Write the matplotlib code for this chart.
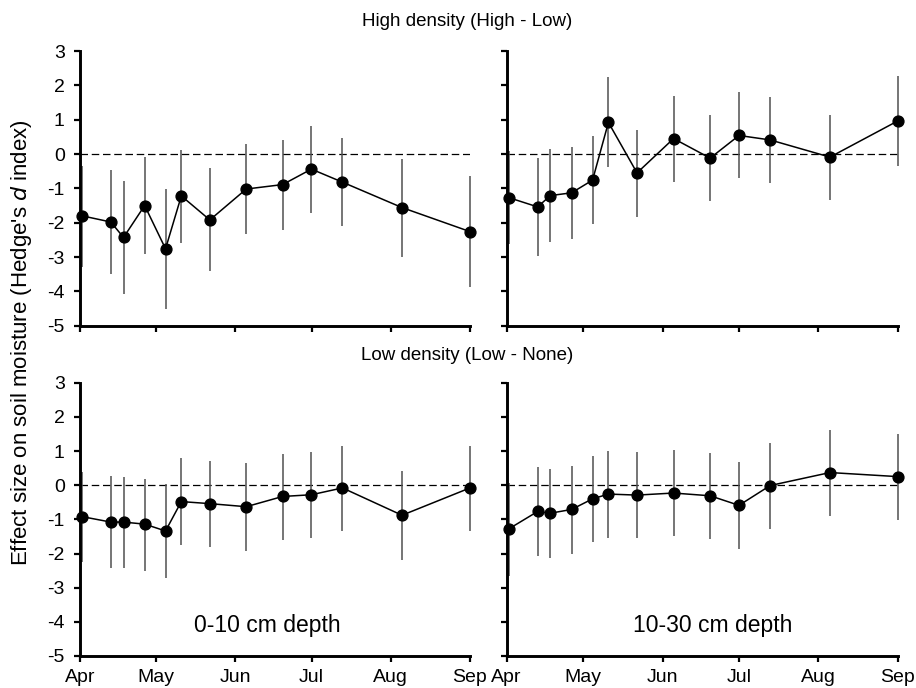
#!/usr/bin/env python3
"""
Effect size on soil moisture by date, two densities x two depths
"""
import matplotlib
matplotlib.use("Agg")
import matplotlib.pyplot as plt

plt.rcParams['font.family'] = ['Liberation Sans', 'DejaVu Sans']
plt.rcParams['axes.unicode_minus'] = False

# sampling dates, days since 1 April
days = [0.8, 12.1, 17.1, 25.4, 33.6, 39.8, 51.0, 65.3, 79.6, 90.9, 103.1, 126.5, 153.2]

month_days = [0, 30, 61, 91, 122, 153]
month_labels = ['Apr', 'May', 'Jun', 'Jul', 'Aug', 'Sep']

# High density (High - Low), 0-10 cm
hi_shallow = [-1.80, -1.98, -2.43, -1.50, -2.76, -1.22, -1.92, -1.02, -0.89, -0.44, -0.82, -1.56, -2.26]
hi_shallow_lo = [-3.28, -3.50, -4.08, -2.92, -4.51, -2.58, -3.42, -2.33, -2.20, -1.71, -2.11, -3.00, -3.86]
hi_shallow_hi = [-0.34, -0.46, -0.80, -0.09, -1.02, 0.13, -0.42, 0.30, 0.42, 0.83, 0.48, -0.14, -0.65]

# High density (High - Low), 10-30 cm
hi_deep = [-1.27, -1.54, -1.21, -1.13, -0.76, 0.92, -0.55, 0.45, -0.12, 0.54, 0.41, -0.09, 0.97]
hi_deep_lo = [-2.62, -2.97, -2.56, -2.48, -2.04, -0.39, -1.82, -0.82, -1.37, -0.71, -0.85, -1.33, -0.34]
hi_deep_hi = [0.10, -0.13, 0.15, 0.20, 0.52, 2.23, 0.71, 1.70, 1.13, 1.81, 1.65, 1.15, 2.28]

# Low density (Low - None), 0-10 cm
lo_shallow = [-0.92, -1.08, -1.08, -1.14, -1.34, -0.48, -0.54, -0.63, -0.33, -0.28, -0.08, -0.88, -0.08]
lo_shallow_lo = [-2.24, -2.42, -2.43, -2.50, -2.73, -1.74, -1.82, -1.92, -1.60, -1.55, -1.34, -2.20, -1.34]
lo_shallow_hi = [0.38, 0.27, 0.25, 0.18, 0.03, 0.79, 0.72, 0.65, 0.91, 0.96, 1.15, 0.42, 1.15]

# Low density (Low - None), 10-30 cm
lo_deep = [-1.28, -0.77, -0.82, -0.71, -0.40, -0.26, -0.29, -0.23, -0.31, -0.59, -0.01, 0.37, 0.25]
lo_deep_lo = [-2.65, -2.07, -2.13, -2.00, -1.66, -1.54, -1.55, -1.49, -1.58, -1.88, -1.27, -0.89, -1.01]
lo_deep_hi = [0.06, 0.52, 0.47, 0.57, 0.86, 1.00, 0.96, 1.03, 0.94, 0.67, 1.23, 1.62, 1.50]

W, H = 916, 688
fig = plt.figure(figsize=(W / 100, H / 100), dpi=100)


def make_axes(left, top, right, bottom):
    return fig.add_axes([left / W, 1 - bottom / H, (right - left) / W, (bottom - top) / H])


ax_tl = make_axes(80, 51, 469.5, 325.7)
ax_tr = make_axes(506.7, 51, 897.7, 325.7)
ax_bl = make_axes(80, 382.7, 469.5, 656)
ax_br = make_axes(506.7, 382.7, 897.7, 656)

panels = [
    (ax_tl, hi_shallow, hi_shallow_lo, hi_shallow_hi),
    (ax_tr, hi_deep, hi_deep_lo, hi_deep_hi),
    (ax_bl, lo_shallow, lo_shallow_lo, lo_shallow_hi),
    (ax_br, lo_deep, lo_deep_lo, lo_deep_hi),
]

for ax, vals, lo, hi in panels:
    # error bars
    ax.vlines(days, lo, hi, colors='#505050', linewidth=1.1, zorder=2, clip_on=False)
    ax.axhline(0, color='black', linestyle=(0, (6, 3)), linewidth=0.9, zorder=1)
    ax.plot(days, vals, color='black', linewidth=1.1, marker='o', markersize=7.8,
            zorder=3, clip_on=False)
    ax.set_xlim(0, 153)
    ax.set_ylim(-5, 3)
    ax.set_yticks(range(-5, 4))
    ax.set_xticks(month_days)
    for side in ['top', 'right']:
        ax.spines[side].set_visible(False)
    for side in ['left', 'bottom']:
        ax.spines[side].set_linewidth(2.1)
    ax.tick_params(direction='out', length=4, width=1.6, labelsize=14, pad=5)
    ax.tick_params(axis='y', pad=7)

# tick labels only where the reference shows them
for ax in [ax_tl, ax_tr]:
    ax.set_xticklabels([])
for ax in [ax_tr, ax_br]:
    ax.set_yticklabels([])
for ax in [ax_bl, ax_br]:
    ax.set_xticklabels(month_labels)

ax_bl.text(0.48, 0.11, '0-10 cm depth', transform=ax_bl.transAxes,
           ha='center', va='center', fontsize=16.5)
ax_br.text(0.528, 0.11, '10-30 cm depth', transform=ax_br.transAxes,
           ha='center', va='center', fontsize=16.5)

fig.text(467 / W, 1 - 22 / H, 'High density (High - Low)', ha='center', va='center', fontsize=13.5)
fig.text(467 / W, 1 - 355 / H, 'Low density (Low - None)', ha='center', va='center', fontsize=13.5)

fig.text(22 / W, 1 - 343 / H, "Effect size on soil moisture (Hedge's $\\mathit{d}$ index)",
         rotation=90, ha='center', va='center', fontsize=16)

fig.savefig('out.png', dpi=100)
